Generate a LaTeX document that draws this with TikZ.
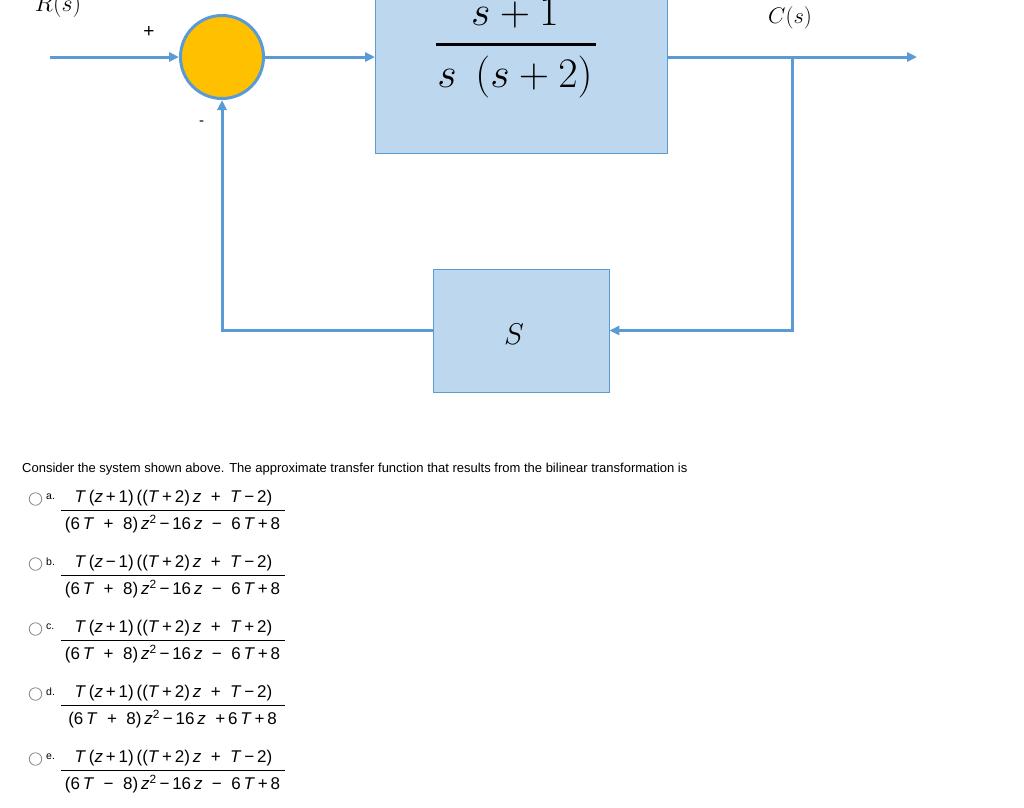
\RequirePackage{fix-cm}
\documentclass[tikz,border=0pt]{standalone}
\usepackage{fontspec}
\newfontfamily\arial{Liberation Sans}
\usetikzlibrary{arrows.meta}
\definecolor{lineblue}{HTML}{5B9BD5}
\definecolor{boxblue}{HTML}{BDD7EE}
\definecolor{sumyellow}{HTML}{FFC000}
\definecolor{radiogray}{HTML}{8A8A8A}
\newcommand{\optfrac}[4]{%
  \node[radio] (r#1) at (35.5,#2+1) {};
  \node[optlabel, anchor=west] (l#1) at (46,#2-1) {#1.};
  \node[opttext] (n#1) at (173.5,#2) {#3};
  \draw[fracbar] (61,#2+12) -- (285,#2+12);
  \node[opttext] (d#1) at (172.5,#2+26) {#4};
}
\begin{document}
\begin{tikzpicture}[x=1pt,y=-1pt,
  sig/.style={draw=lineblue,line width=3pt,-{Triangle[length=10pt,width=9pt]}},
  block/.style={rectangle,draw=lineblue,line width=0.8pt,fill=boxblue,inner sep=0pt},
  radio/.style={circle,draw=radiogray,line width=0.8pt,minimum size=12.5pt,inner sep=0pt},
  optlabel/.style={font=\arial\fontsize{10.5}{12}\selectfont,inner sep=0pt},
  opttext/.style={font=\arial\fontsize{17}{20}\selectfont,inner sep=0pt},
  fracbar/.style={draw=black,line width=0.9pt}]
\clip (0,0) rectangle (1024,807);
\fill[white] (0,0) rectangle (1024,807);
% summing junction
\node[circle,draw=lineblue,line width=3pt,fill=sumyellow,minimum size=83pt,inner sep=0pt] (sum) at (222,57) {};
\node[font=\arial\fontsize{19}{22}\selectfont,inner sep=0pt] (plus) at (149,32) {+};
\node[font=\arial\fontsize{15}{18}\selectfont,inner sep=0pt] (minus) at (201.5,123) {-};
% forward block
\node[block,minimum width=292pt,minimum height=200pt,anchor=south west] (G) at (375,154) {};
\node[font=\fontsize{42}{48}\selectfont,inner sep=0pt,anchor=base] (num) at (515,25) {$s+1$};
\draw[draw=black,line width=3pt] (436,44) -- (596,44);
\node[font=\fontsize{42}{48}\selectfont,inner sep=0pt,anchor=base] (den) at (515,87) {$s\;\,(s+2)$};
% feedback block
\node[block,minimum width=176pt,minimum height=123pt] (H) at (521,330.5) {};
\node[font=\fontsize{30}{34}\selectfont,inner sep=0pt] (Hs) at (514,334) {$S$};
% labels
\node[font=\fontsize{24}{28}\selectfont,inner sep=0pt] (R) at (58,5) {$R(s)$};
\node[font=\fontsize{22.5}{26}\selectfont,inner sep=0pt] (C) at (790,18) {$C(s)$};
% connectors
\coordinate (in) at (50,57);
\coordinate (out) at (917,57);
\coordinate (br) at (792,57);
\draw[sig] (in) -- (sum.west);
\draw[sig] (sum.east) -- (sum.east -| G.west);
\draw[sig] (sum.east -| G.east) -- (out);
\draw[sig] (br) |- (H.east);
\draw[sig] (H.west) -| (sum.south);
% question
\node[font=\arial\fontsize{13}{15}\selectfont,anchor=west,inner sep=0pt] (q) at (22,469) {Consider the system shown above. The approximate transfer function that results from the bilinear transformation is};
\optfrac{a}{498}{\textit{T}\,(\textit{z}\,+\,1)\,((\textit{T}\,+\,2)\,\textit{z}\;\;+\;\;\textit{T}\,−\,2)}{(6\,\textit{T}\;\;+\;\;8)\,\textit{z}\textsuperscript{2}\,−\,16\,\textit{z}\;\;−\;\;6\,\textit{T}\,+\,8}
\optfrac{b}{563}{\textit{T}\,(\textit{z}\,−\,1)\,((\textit{T}\,+\,2)\,\textit{z}\;\;+\;\;\textit{T}\,−\,2)}{(6\,\textit{T}\;\;+\;\;8)\,\textit{z}\textsuperscript{2}\,−\,16\,\textit{z}\;\;−\;\;6\,\textit{T}\,+\,8}
\optfrac{c}{628}{\textit{T}\,(\textit{z}\,+\,1)\,((\textit{T}\,+\,2)\,\textit{z}\;\;+\;\;\textit{T}\,+\,2)}{(6\,\textit{T}\;\;+\;\;8)\,\textit{z}\textsuperscript{2}\,−\,16\,\textit{z}\;\;−\;\;6\,\textit{T}\,+\,8}
\optfrac{d}{693}{\textit{T}\,(\textit{z}\,+\,1)\,((\textit{T}\,+\,2)\,\textit{z}\;\;+\;\;\textit{T}\,−\,2)}{(6\,\textit{T}\;\;+\;\;8)\,\textit{z}\textsuperscript{2}\,−\,16\,\textit{z}\;\;+\,6\,\textit{T}\,+\,8}
\optfrac{e}{758}{\textit{T}\,(\textit{z}\,+\,1)\,((\textit{T}\,+\,2)\,\textit{z}\;\;+\;\;\textit{T}\,−\,2)}{(6\,\textit{T}\;\;−\;\;8)\,\textit{z}\textsuperscript{2}\,−\,16\,\textit{z}\;\;−\;\;6\,\textit{T}\,+\,8}
\end{tikzpicture}
\end{document}
